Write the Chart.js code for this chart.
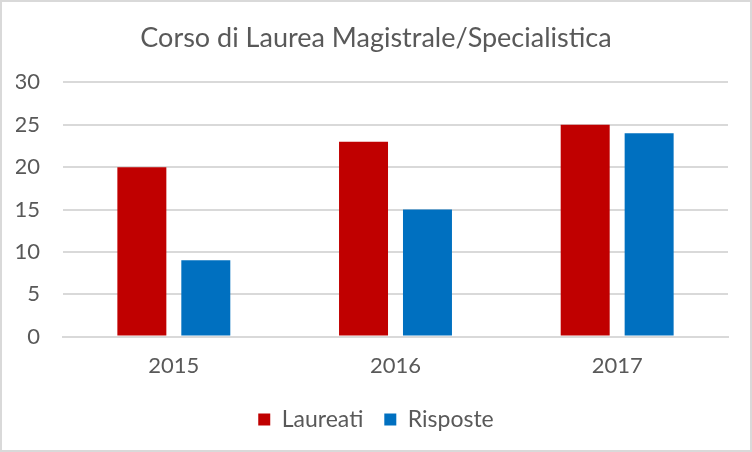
<!DOCTYPE html>
<html><head><meta charset="utf-8">
<script src="https://cdn.jsdelivr.net/npm/chart.js@4/dist/chart.umd.min.js"></script>
<style>
html,body{margin:0;padding:0;background:#fff}
#wrap{position:absolute;left:0;top:0;width:752px;height:452px;box-sizing:border-box;border:2px solid #d9d9d9;background:#fff}
canvas{display:block}
</style></head><body>
<div id="wrap"><canvas id="c" width="748" height="448"></canvas></div>
<script>
/* dati */
const years=['2015','2016','2017'];
const laureati=[20,23,25];
const risposte=[9,15,24];
const TXT='#595959',GRID='#d9d9d9',FONT='Lato';

new Chart(document.getElementById('c'),{type:'bar',
  data:{labels:years,datasets:[
    {label:'Laureati',data:laureati,backgroundColor:'#c00000',barPercentage:.766,categoryPercentage:.577},
    {label:'Risposte',data:risposte,backgroundColor:'#0070c0',barPercentage:.766,categoryPercentage:.577}]},
  options:{responsive:false,animation:false,
    layout:{padding:{left:14,right:14,top:14,bottom:9}},
    plugins:{
      title:{display:true,text:'Corso di Laurea Magistrale/Specialistica',color:TXT,font:{family:FONT,size:27,weight:'normal'},padding:{top:6,bottom:28}},
      legend:{position:'bottom',labels:{color:TXT,boxWidth:12,boxHeight:12,padding:21,font:{family:FONT,size:23}}},
      tooltip:{enabled:false}},
    scales:{
      x:{grid:{display:false},border:{color:GRID,width:2},ticks:{color:TXT,padding:8,font:{family:FONT,size:22}}},
      y:{min:0,max:30,afterFit(s){s.width=47;},ticks:{stepSize:5,color:TXT,padding:23,font:{family:FONT,size:22}},
        grid:{color:GRID,lineWidth:2,drawTicks:false},border:{display:false}},
      // asse vuoto a destra, solo per lasciare margine
      yR:{type:'linear',position:'right',afterFit(s){s.width=8;},ticks:{display:false},grid:{display:false},border:{display:false}}}}});
</script>
</body></html>
